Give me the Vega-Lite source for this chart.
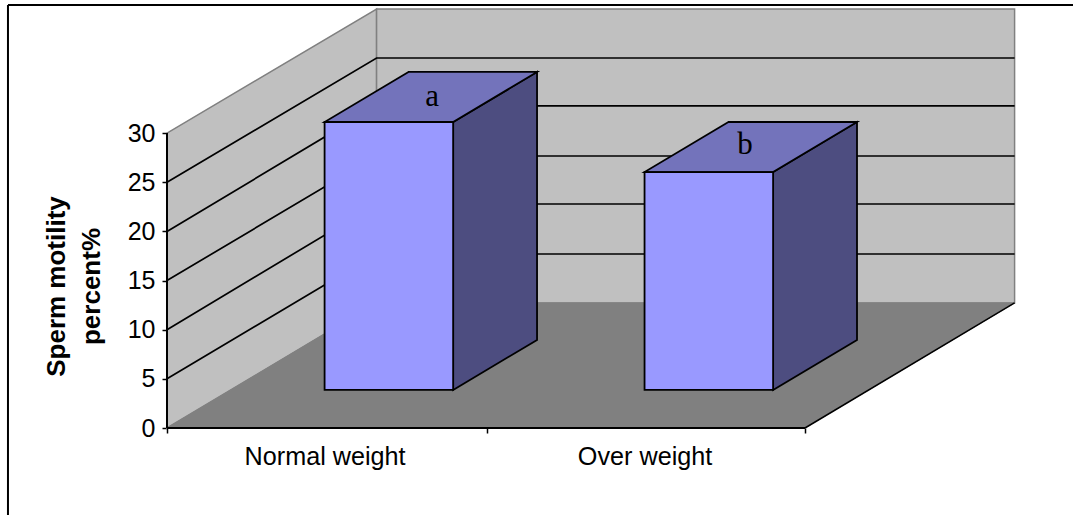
{
"$schema":"https://vega.github.io/schema/vega-lite/v6.json",
"width":1073,"height":515,"padding":0,"autosize":{"type":"none"},"background":"white",
"config":{"view":{"stroke":null},"font":"Liberation Sans"},
"datasets":{
"walls":[
{"part":"side","px":0,"lo":0,"hi":30},
{"part":"side","px":0.657,"lo":12.72,"hi":42.62},
{"part":"back","px":0.657,"lo":12.72,"hi":42.62},
{"part":"back","px":2.657,"lo":12.72,"hi":42.62}
],
"floor":[
{"d":0,"a":0,"b":2},
{"d":12.72,"a":0.657,"b":2.657}
],
"grid":[
{"v":5,"px":0,"py":5},{"v":5,"px":0.657,"py":17.7},{"v":5,"px":2.657,"py":17.7},
{"v":10,"px":0,"py":10},{"v":10,"px":0.657,"py":22.79},{"v":10,"px":2.657,"py":22.79},
{"v":15,"px":0,"py":15},{"v":15,"px":0.657,"py":27.67},{"v":15,"px":2.657,"py":27.67},
{"v":20,"px":0,"py":20},{"v":20,"px":0.657,"py":32.76},{"v":20,"px":2.657,"py":32.76},
{"v":25,"px":0,"py":25},{"v":25,"px":0.657,"py":37.64},{"v":25,"px":2.657,"py":37.64}
],
"edges":[
{"e":"diag","px":2,"py":0},{"e":"diag","px":2.657,"py":12.72}
],
"rules":[
{"a":0,"b":2,"c":0,"d":0},
{"a":0,"b":0,"c":0,"d":30},
{"a":-0.4985,"b":2.8401,"c":43.03,"d":43.03},
{"a":-0.4985,"b":-0.4985,"c":-8.85,"d":43.03}
],
"front":[
{"group":"Normal weight","x0":0.494,"x1":0.897,"base":3.87,"top":31.13},
{"group":"Over weight","x0":1.497,"x1":1.9,"base":3.87,"top":26.04}
],
"sideFaces":[
{"group":"Normal weight","px":0.897,"lo":3.87,"hi":31.13},
{"group":"Normal weight","px":1.16,"lo":8.96,"hi":36.22},
{"group":"Over weight","px":1.9,"lo":3.87,"hi":26.04},
{"group":"Over weight","px":2.163,"lo":8.96,"hi":31.13}
],
"topFaces":[
{"group":"Normal weight","py":31.13,"a":0.494,"b":0.897},
{"group":"Normal weight","py":36.22,"a":0.757,"b":1.16},
{"group":"Over weight","py":26.04,"a":1.497,"b":1.9},
{"group":"Over weight","py":31.13,"a":1.76,"b":2.163}
],
"notes":[
{"t":"a","px":0.831,"py":33.7},
{"t":"b","px":1.812,"py":28.8}
],
"axisAnchor":[{"px":0,"py":0}]
},
"layer":[
{"data":{"name":"walls"},"mark":{"type":"area","color":"#c0c0c0","stroke":"#808080","strokeWidth":1.5,"interpolate":"linear"},
 "encoding":{"x":{"field":"px","type":"quantitative","scale":{"domain":[-0.5235,2.8401],"nice":false,"zero":false},"axis":null},
 "y":{"field":"lo","type":"quantitative","scale":{"domain":[-8.85,43.54],"nice":false,"zero":false},"axis":null},
 "y2":{"field":"hi"},"detail":{"field":"part"}}},
{"data":{"name":"floor"},"mark":{"type":"area","orient":"horizontal","color":"#808080","stroke":"#808080","strokeWidth":1},
 "encoding":{"y":{"field":"d","type":"quantitative","axis":null},"x":{"field":"a","type":"quantitative","axis":null},"x2":{"field":"b"}}},
{"data":{"name":"grid"},"mark":{"type":"line","color":"black","strokeWidth":1.7},
 "encoding":{"x":{"field":"px","type":"quantitative","axis":null},"y":{"field":"py","type":"quantitative","axis":null},"detail":{"field":"v"}}},
{"data":{"name":"edges"},"mark":{"type":"line","color":"black","strokeWidth":1.5},
 "encoding":{"x":{"field":"px","type":"quantitative","axis":null},"y":{"field":"py","type":"quantitative","axis":null}}},
{"data":{"name":"rules"},"mark":{"type":"rule","color":"black","strokeWidth":2},
 "encoding":{"x":{"field":"a","type":"quantitative","axis":null},"x2":{"field":"b"},"y":{"field":"c","type":"quantitative","axis":null},"y2":{"field":"d"}}},
{"data":{"name":"sideFaces"},"mark":{"type":"area","color":"#4d4d80","stroke":"black","strokeWidth":1.8},
 "encoding":{"x":{"field":"px","type":"quantitative","axis":null},"y":{"field":"lo","type":"quantitative","axis":null},"y2":{"field":"hi"},"detail":{"field":"group"}}},
{"data":{"name":"topFaces"},"mark":{"type":"area","orient":"horizontal","color":"#7373bb","stroke":"black","strokeWidth":1.8},
 "encoding":{"y":{"field":"py","type":"quantitative","axis":null},"x":{"field":"a","type":"quantitative","axis":null},"x2":{"field":"b"},"detail":{"field":"group"}}},
{"data":{"name":"front"},"mark":{"type":"rect","color":"#9999ff","stroke":"black","strokeWidth":1.8},
 "encoding":{"x":{"field":"x0","type":"quantitative","axis":null},"x2":{"field":"x1"},"y":{"field":"base","type":"quantitative","axis":null},"y2":{"field":"top"}}},
{"data":{"name":"notes"},"mark":{"type":"text","font":"Liberation Serif","fontSize":31,"color":"black","baseline":"middle","align":"center"},
 "encoding":{"x":{"field":"px","type":"quantitative","axis":null},"y":{"field":"py","type":"quantitative","axis":null},"text":{"field":"t"}}},
{"data":{"name":"axisAnchor"},"mark":{"type":"point","opacity":0},
 "encoding":{"x":{"field":"px","type":"quantitative","axis":{"orient":"bottom","offset":-87,"values":[0,1.003,2],"domain":false,"grid":false,"labels":false,"title":null,"tickColor":"black","tickSize":5,"tickWidth":1.5}},"y":{"field":"py","type":"quantitative","axis":{"orient":"left","offset":-167,"values":[0,5,10,15,20,25,30],"domain":false,"grid":false,"tickColor":"black","tickSize":5,"tickWidth":1.5,"labelColor":"black","labelFontSize":25,"labelPadding":7,"title":["Sperm motility","percent%"],"titleFontSize":26,"titleFontWeight":"bold","titleColor":"black","titleAngle":-90,"titleX":-98,"titleY":286,"titleLineHeight":35,"titleAlign":"center"}}}},
{"data":{"name":"axisAnchor"},"mark":{"type":"point","opacity":0},
 "encoding":{"x":{"field":"px","type":"quantitative","axis":{"orient":"bottom","offset":-87,"values":[0.494,1.497],"labelExpr":"datum.value<1?'Normal weight':'Over weight'","domain":false,"grid":false,"ticks":false,"title":null,"labelColor":"black","labelFontSize":25.2,"labelPadding":16}},"y":{"field":"py","type":"quantitative","axis":null}}}
],
"resolve":{"axis":{"x":"independent","y":"independent"}}
}
